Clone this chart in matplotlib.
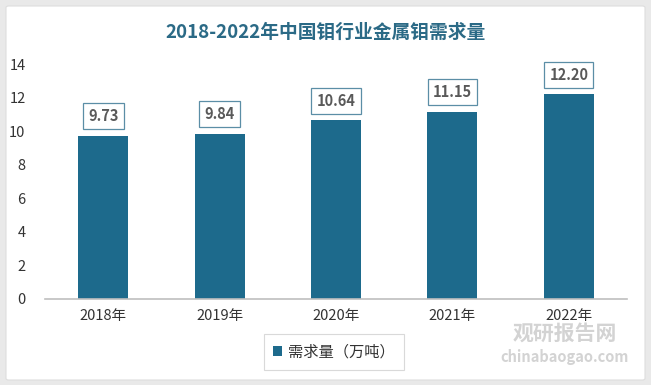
import matplotlib
matplotlib.use("Agg")
import matplotlib.pyplot as plt
from matplotlib.patches import FancyBboxPatch, Rectangle

plt.rcParams['font.family'] = ['Noto Sans CJK SC', 'DejaVu Sans']
plt.rcParams['hatch.color'] = '#d6d6d6'
plt.rcParams['hatch.linewidth'] = 0.6

categories = ['2018年', '2019年', '2020年', '2021年', '2022年']
values = [9.73, 9.84, 10.64, 11.15, 12.20]
labels = ['9.73', '9.84', '10.64', '11.15', '12.20']
series_name = '需求量（万吨）'
title = '2018-2022年中国钼行业金属钼需求量'

W, H = 651, 385
fig = plt.figure(figsize=(W / 100, H / 100), dpi=100)
fig.patch.set_facecolor('#e9e9e9')
card = FancyBboxPatch((6 / W, 5 / H), 639 / W, 374 / H, boxstyle='round,pad=0,rounding_size=0.004',
                      transform=fig.transFigure, facecolor='white', edgecolor='#dddddd', lw=0.8, zorder=-10)
fig.patches.append(card)

ax = fig.add_axes([45 / W, (H - 299) / H, 582 / W, 235 / H])
ax.set_zorder(1)
ax.set_facecolor('none')
ax.add_patch(Rectangle((0, 0), 1, 1, transform=ax.transAxes, facecolor='white',
                       edgecolor='none', hatch='//////', zorder=0))

color = '#1d6a8c'
x = list(range(len(categories)))
bars = ax.bar(x, values, width=0.43, color=color, zorder=2, label=series_name)
ax.set_xlim(-0.5, len(categories) - 0.5)
ax.set_ylim(0, 14)
ax.set_yticks(range(0, 15, 2))
ax.set_xticks(x)
ax.set_xticklabels(categories, fontsize=10.5, color='#333333')
ax.tick_params(axis='y', labelsize=10.5, colors='#333333', length=0, pad=14)
ax.tick_params(axis='x', length=0, pad=7)
for s in ['top', 'right', 'left']:
    ax.spines[s].set_visible(False)
ax.spines['bottom'].set_color('#bfbfbf')
ax.spines['bottom'].set_linewidth(1.2)

for xi, v, lab in zip(x, values, labels):
    ax.annotate(lab, (xi, v), xytext=(0, 14), textcoords='offset points', ha='center', va='center',
                fontsize=10.5, fontweight='bold', color='#595959', zorder=3,
                bbox=dict(boxstyle='square,pad=0.35', facecolor='white', edgecolor='#5b8ea6', lw=0.9))

fig.text(0.5, (H - 32) / H, title, ha='center', va='center', fontsize=13.5, fontweight='bold', color='#2b6a86')

leg = fig.legend(handles=[bars], labels=[series_name], loc='center', bbox_to_anchor=(334 / W, (H - 352) / H),
                 fontsize=11, frameon=True, fancybox=False, edgecolor='#d0d0d0', handlelength=0.6,
                 handleheight=0.6, handletextpad=0.4, borderpad=0.6)
leg.get_frame().set_linewidth(0.8)
for t in leg.get_texts():
    t.set_color('#333333')

fig.text(565 / W, (H - 333) / H, '观研报告网', ha='center', va='center', fontsize=15, fontweight='bold',
         color='#c8c8c8', alpha=0.8, zorder=-5)
fig.text(565 / W, (H - 357) / H, 'chinabaogao.com', ha='center', va='center', fontsize=10.5, fontweight='bold',
         color='#c8c8c8', alpha=0.8, zorder=-5)

fig.savefig('out.png', dpi=100, facecolor=fig.get_facecolor())
